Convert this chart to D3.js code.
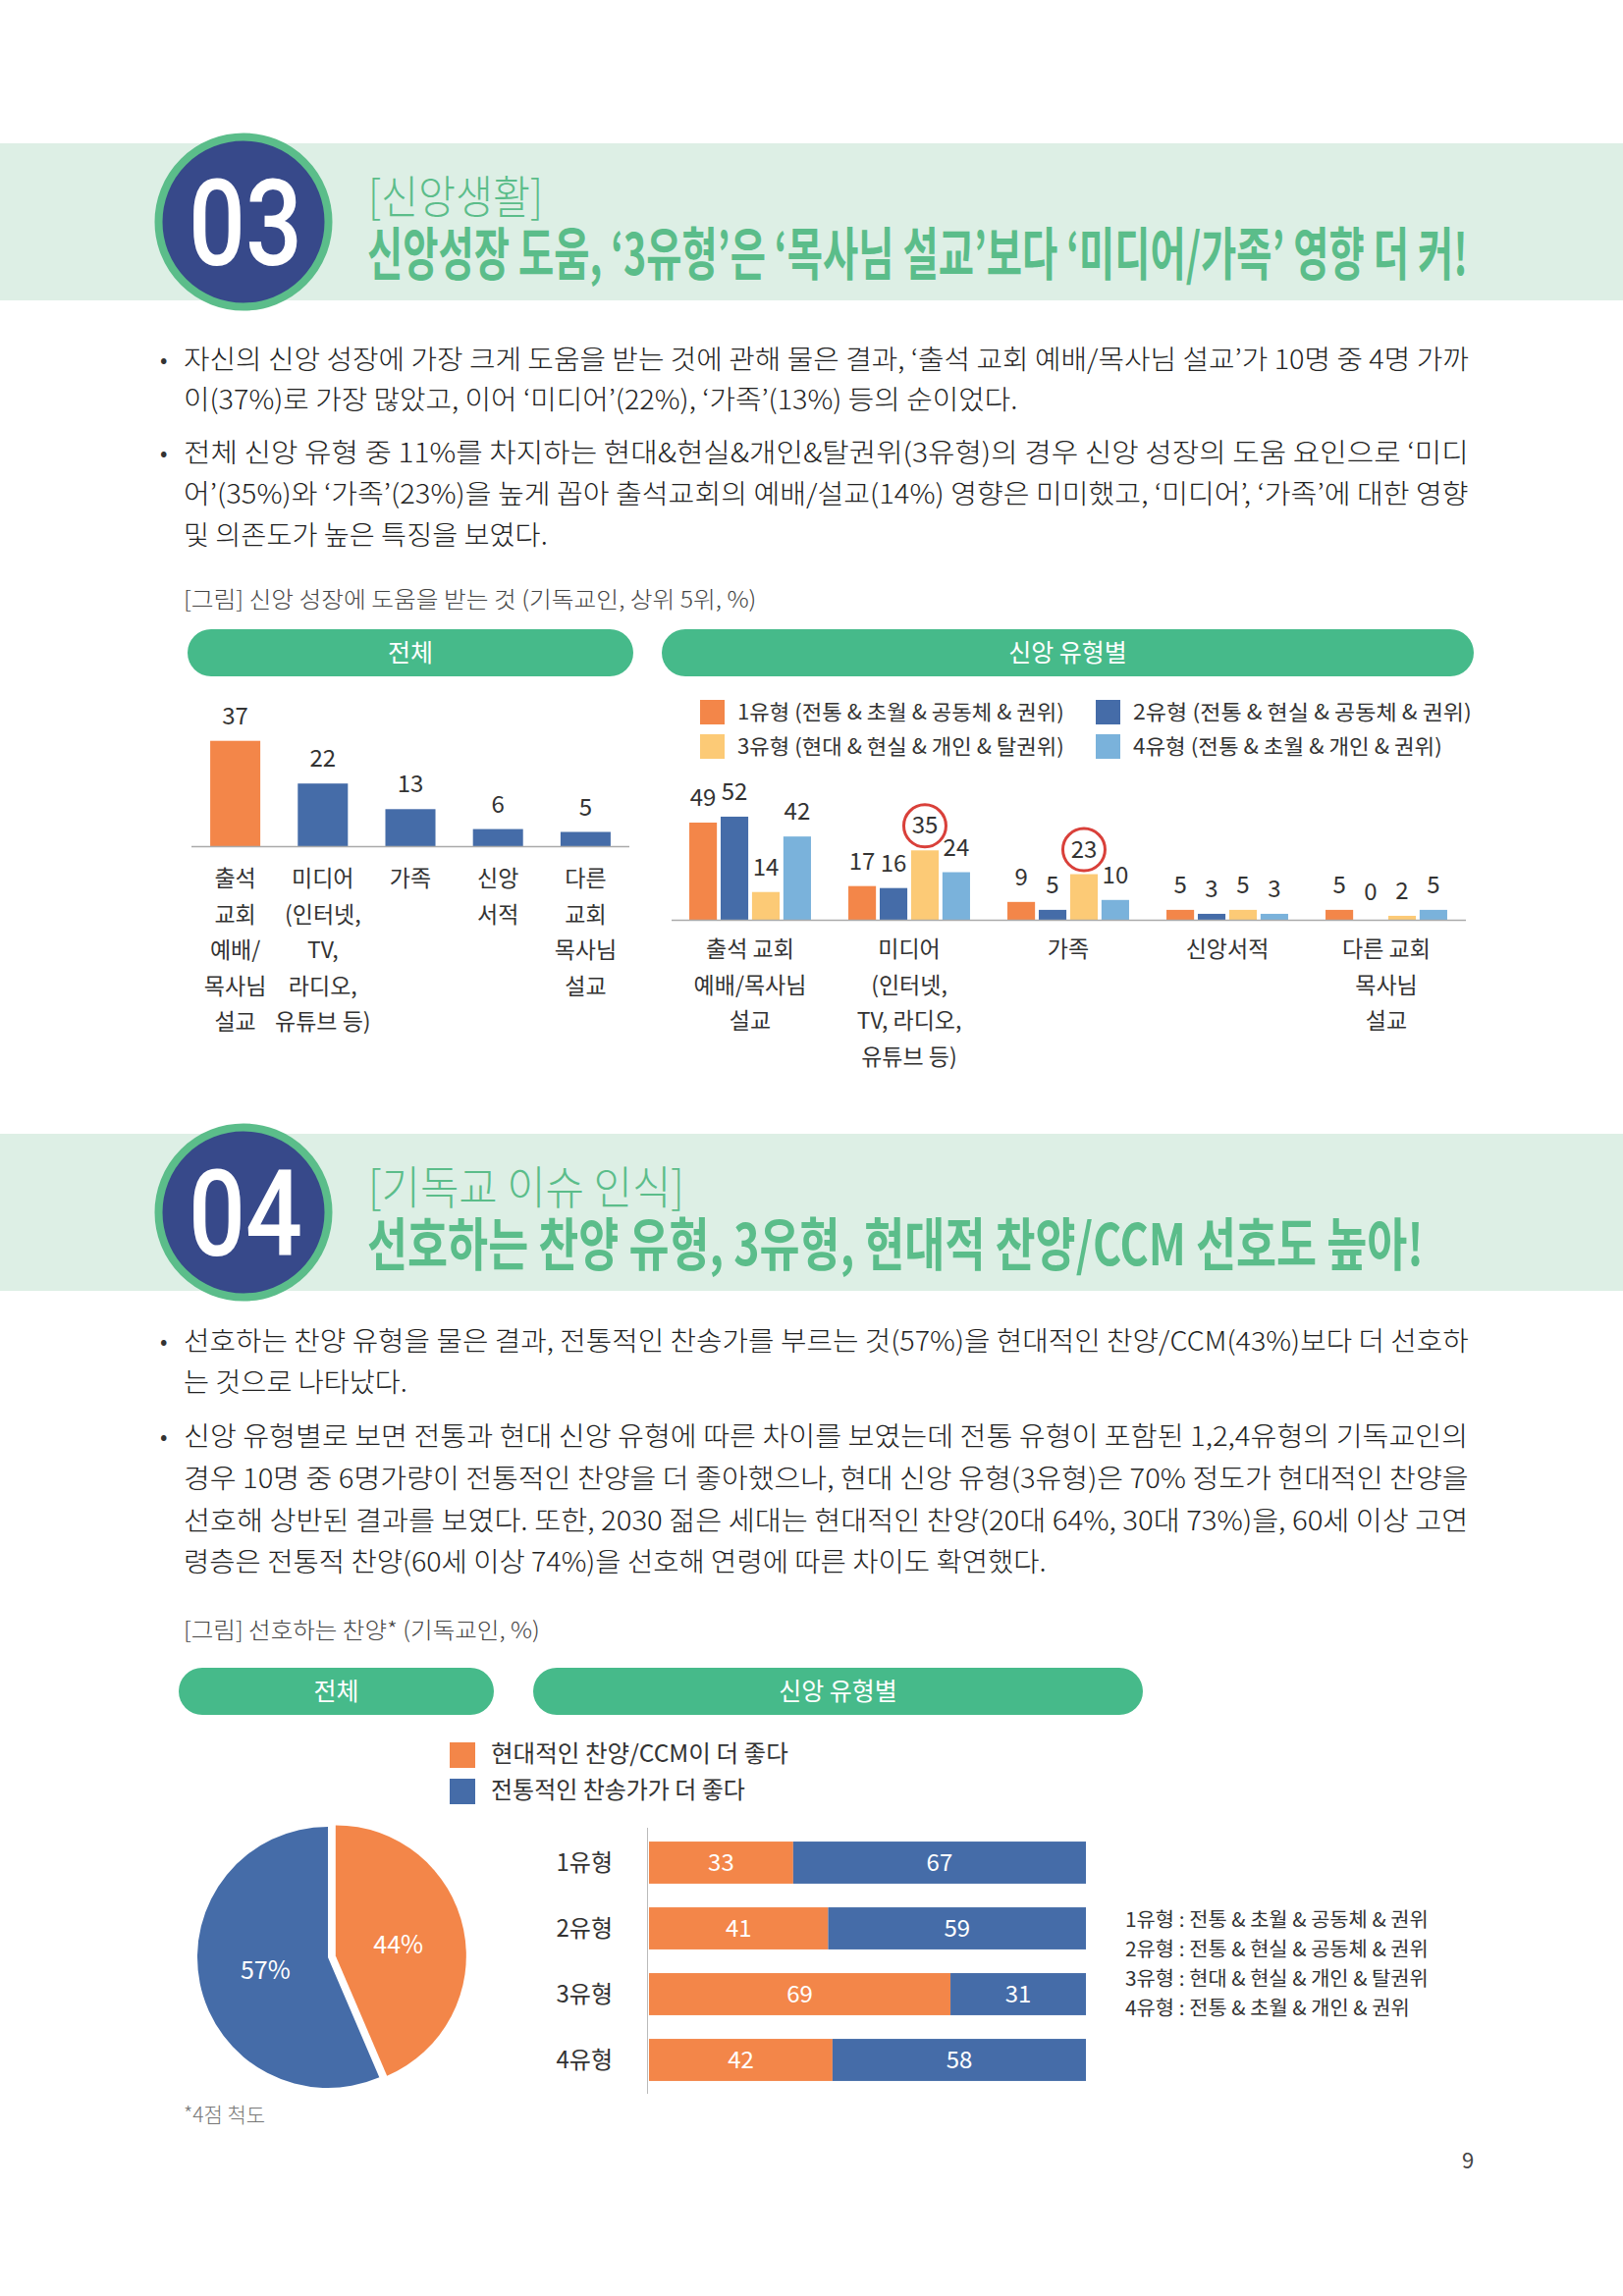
<!DOCTYPE html>
<html>
  <head>
    <meta charset="UTF-8">
    <title>신앙생활 / 기독교 이슈 인식</title>
    <script src="https://d3js.org/d3.v7.min.js"></script>
    <style>
      body { margin: 0; background: #fff; }
      text { font-family: 'Noto Sans CJK KR', 'Noto Sans', sans-serif; }
    </style>
  </head>
  <body>
    <svg width="1653" height="2339"></svg>

    <script>

// ---- chart 1 : 전체 ----
const overallCats = [
  ["출석", "교회", "예배/", "목사님", "설교"],
  ["미디어", "(인터넷,", "TV,", "라디오,", "유튜브 등)"],
  ["가족"],
  ["신앙", "서적"],
  ["다른", "교회", "목사님", "설교"]
];
const overallVals = [37, 22, 13, 6, 5];

// ---- chart 1 : 신앙 유형별 ----
const typeNames = [
  "1유형 (전통 & 초월 & 공동체 & 권위)",
  "2유형 (전통 & 현실 & 공동체 & 권위)",
  "3유형 (현대 & 현실 & 개인 & 탈권위)",
  "4유형 (전통 & 초월 & 개인 & 권위)"
];
const typeCats = [
  ["출석 교회", "예배/목사님", "설교"],
  ["미디어", "(인터넷,", "TV, 라디오,", "유튜브 등)"],
  ["가족"],
  ["신앙서적"],
  ["다른 교회", "목사님", "설교"]
];
const type1Vals = [49, 17, 9, 5, 5];
const type2Vals = [52, 16, 5, 3, 0];
const type3Vals = [14, 35, 23, 5, 2];
const type4Vals = [42, 24, 10, 3, 5];
const circledCats = [1, 2];   // 3유형 values circled in these categories

// ---- chart 2 ----
const songLegend = ["현대적인 찬양/CCM이 더 좋다", "전통적인 찬송가가 더 좋다"];
const pieVals = [44, 57];
const songTypes = ["1유형", "2유형", "3유형", "4유형"];
const modernVals = [33, 41, 69, 42];
const tradVals = [67, 59, 31, 58];
const typeNotes = [
  "1유형 : 전통 & 초월 & 공동체 & 권위",
  "2유형 : 전통 & 현실 & 공동체 & 권위",
  "3유형 : 현대 & 현실 & 개인 & 탈권위",
  "4유형 : 전통 & 초월 & 개인 & 권위"
];

const ORANGE = "#f38649", BLUE = "#456ca8", YELLOW = "#fcca76", LIGHTBLUE = "#7ab2db";
const GREEN = "#5bbd8a", PILL = "#46ba8a", BAND = "#ddefe5", NAVY = "#37498a";
const typeColors = [ORANGE, BLUE, YELLOW, LIGHTBLUE];

const svg = d3.select("svg");

// small helper for text; width squeezes/stretches the line to that length
function addText(g, x, y, s, size, opts) {
  opts = opts || {};
  const t = g.append("text")
    .attr("font-size", size)
    .attr("fill", opts.fill || "#222")
    .attr("font-weight", opts.weight || 400)
    .attr("text-anchor", opts.anchor || "start")
    .text(s);
  if (opts.family) t.style("font-family", opts.family);
  if (opts.width) {
    const k = opts.width / t.node().getComputedTextLength();
    t.attr("x", 0).attr("y", 0)
      .attr("transform", "translate(" + x + "," + y + ") scale(" + k + ",1)");
  } else {
    t.attr("x", x).attr("y", y);
  }
  return t;
}

// ---- section headers ----
function header(y0, num, sub, subW, title, titleW) {
  const g = svg.append("g");
  g.append("rect").attr("x", 0).attr("y", y0).attr("width", 1653).attr("height", 160).attr("fill", BAND);
  g.append("circle").attr("cx", 248).attr("cy", y0 + 80).attr("r", 86.5)
    .attr("fill", NAVY).attr("stroke", GREEN).attr("stroke-width", 8);
  addText(g, 250, y0 + 124, num, 122, { fill: "#fff", weight: 500, anchor: "middle", width: 116,
    family: "Roboto, 'Noto Sans', sans-serif" });
  addText(g, 375, y0 + 71, sub, 46, { fill: GREEN, weight: 300, width: subW });
  addText(g, 374, y0 + 134, title, 58, { fill: GREEN, weight: 700, width: titleW });
}
header(146, "03", "[신앙생활]", 178,
  "신앙성장 도움, ‘3유형’은 ‘목사님 설교’보다 ‘미디어/가족’ 영향 더 커!", 1121);
header(1155, "04", "[기독교 이슈 인식]", 322,
  "선호하는 찬양 유형, 3유형, 현대적 찬양/CCM 선호도 높아!", 1076);

// ---- body text ----
function paragraph(lines, ys, lastW) {
  const g = svg.append("g");
  addText(g, 163, ys[0] - 2, "•", 22, { fill: "#333" });
  lines.forEach((s, i) => {
    const w = i === lines.length - 1 ? lastW : 1309;
    addText(g, 187, ys[i], s, 27, { weight: 300, width: w });
  });
}
paragraph([
  "자신의 신앙 성장에 가장 크게 도움을 받는 것에 관해 물은 결과, ‘출석 교회 예배/목사님 설교’가 10명 중 4명 가까",
  "이(37%)로 가장 많았고, 이어 ‘미디어’(22%), ‘가족’(13%) 등의 순이었다."
], [376, 417], 850);
paragraph([
  "전체 신앙 유형 중 11%를 차지하는 현대&현실&개인&탈권위(3유형)의 경우 신앙 성장의 도움 요인으로 ‘미디",
  "어’(35%)와 ‘가족’(23%)을 높게 꼽아 출석교회의 예배/설교(14%) 영향은 미미했고, ‘미디어’, ‘가족’에 대한 영향",
  "및 의존도가 높은 특징을 보였다."
], [471, 513, 555], 371);
paragraph([
  "선호하는 찬양 유형을 물은 결과, 전통적인 찬송가를 부르는 것(57%)을 현대적인 찬양/CCM(43%)보다 더 선호하",
  "는 것으로 나타났다."
], [1376, 1418], 228);
paragraph([
  "신앙 유형별로 보면 전통과 현대 신앙 유형에 따른 차이를 보였는데 전통 유형이 포함된 1,2,4유형의 기독교인의",
  "경우 10명 중 6명가량이 전통적인 찬양을 더 좋아했으나, 현대 신앙 유형(3유형)은 70% 정도가 현대적인 찬양을",
  "선호해 상반된 결과를 보였다. 또한, 2030 젊은 세대는 현대적인 찬양(20대 64%, 30대 73%)을, 60세 이상 고연",
  "령층은 전통적 찬양(60세 이상 74%)을 선호해 연령에 따른 차이도 확연했다."
], [1473, 1516, 1559, 1601], 879);

// captions
addText(svg, 187, 619, "[그림] 신앙 성장에 도움을 받는 것 (기독교인, 상위 5위, %)", 23, { fill: "#444", weight: 300, width: 584 });
addText(svg, 187, 1669, "[그림] 선호하는 찬양* (기독교인, %)", 23, { fill: "#444", weight: 300, width: 363 });

// pills
function pill(x0, x1, y0, label) {
  svg.append("rect").attr("x", x0).attr("y", y0).attr("width", x1 - x0).attr("height", 48)
    .attr("rx", 24).attr("fill", PILL);
  addText(svg, (x0 + x1) / 2, y0 + 33, label, 25, { fill: "#fff", anchor: "middle" });
}
pill(191, 645, 641, "전체");
pill(674, 1501, 641, "신앙 유형별");
pill(182, 503, 1699, "전체");
pill(543, 1164, 1699, "신앙 유형별");

// ---- chart 1 left : 전체 ----
const baseL = 862;
const xL = d3.scaleBand().domain(d3.range(overallVals.length)).range([195, 641])
  .paddingInner(0.428).paddingOuter(0.214);
const yL = d3.scaleLinear().domain([0, 40]).range([baseL, baseL - 116]);

const left = svg.append("g");
left.selectAll("rect").data(overallVals).join("rect")
  .attr("x", (d, i) => xL(i))
  .attr("y", d => yL(d))
  .attr("width", xL.bandwidth())
  .attr("height", d => baseL - yL(d))
  .attr("fill", (d, i) => i === 0 ? ORANGE : BLUE);
left.selectAll(".val").data(overallVals).join("text")
  .attr("class", "val")
  .attr("x", (d, i) => xL(i) + xL.bandwidth() / 2)
  .attr("y", d => yL(d) - 17)
  .attr("text-anchor", "middle").attr("font-size", 24).attr("fill", "#333")
  .text(d => d);
left.append("line").attr("x1", 195).attr("x2", 641).attr("y1", baseL + 0.5).attr("y2", baseL + 0.5)
  .attr("stroke", "#aaa").attr("stroke-width", 1.5);
overallCats.forEach((lines, i) => {
  lines.forEach((s, j) => {
    addText(left, xL(i) + xL.bandwidth() / 2, 903 + j * 36.5, s, 23, { fill: "#333", anchor: "middle" });
  });
});

// ---- chart 1 right : 신앙 유형별 ----
const baseR = 937;
const typeVals = [type1Vals, type2Vals, type3Vals, type4Vals];
const xG = d3.scaleBand().domain(d3.range(typeCats.length)).range([683, 1493])
  .paddingInner(0.235).paddingOuter(0.1175);
const xT = d3.scaleBand().domain(d3.range(4)).range([0, xG.bandwidth()]).paddingInner(0.12);
const yR = d3.scaleLinear().domain([0, 60]).range([baseR, baseR - 121.2]);

const right = svg.append("g");
const cells = [];
typeCats.forEach((c, ci) => {
  typeVals.forEach((vals, ti) => cells.push({ ci: ci, ti: ti, v: vals[ci] }));
});
right.selectAll("rect").data(cells).join("rect")
  .attr("x", d => xG(d.ci) + xT(d.ti))
  .attr("y", d => yR(d.v))
  .attr("width", xT.bandwidth())
  .attr("height", d => baseR - yR(d.v))
  .attr("fill", d => typeColors[d.ti]);
right.selectAll(".val").data(cells).join("text")
  .attr("class", "val")
  .attr("x", d => xG(d.ci) + xT(d.ti) + xT.bandwidth() / 2)
  .attr("y", d => yR(d.v) - (d.v === 0 ? 20 : 17))
  .attr("text-anchor", "middle").attr("font-size", 24).attr("fill", "#333")
  .text(d => d.v);
right.selectAll(".ring").data(cells.filter(d => d.ti === 2 && circledCats.includes(d.ci))).join("circle")
  .attr("class", "ring")
  .attr("cx", d => xG(d.ci) + xT(d.ti) + xT.bandwidth() / 2)
  .attr("cy", d => yR(d.v) - 25)
  .attr("r", 21.5)
  .attr("fill", "none").attr("stroke", "#d9403a").attr("stroke-width", 3);
right.append("line").attr("x1", 684).attr("x2", 1493).attr("y1", baseR + 0.5).attr("y2", baseR + 0.5)
  .attr("stroke", "#aaa").attr("stroke-width", 1.5);
typeCats.forEach((lines, i) => {
  lines.forEach((s, j) => {
    addText(right, xG(i) + xG.bandwidth() / 2, 975 + j * 36.5, s, 23, { fill: "#333", anchor: "middle" });
  });
});
// legend
const legendW = [333, 345, 333, 315];
typeNames.forEach((s, i) => {
  const lx = i % 2 === 0 ? 713 : 1116;
  const ly = i < 2 ? 713 : 748;
  right.append("rect").attr("x", lx).attr("y", ly).attr("width", 25).attr("height", 25).attr("fill", typeColors[i]);
  addText(right, lx + 38, ly + 20, s, 21, { fill: "#333", width: legendW[i] });
});

// ---- chart 2 : pie ----
const pieG = svg.append("g").attr("transform", "translate(334,1994)");
const arcs = d3.pie().sort(null)(pieVals);
const arc = d3.arc().innerRadius(0).outerRadius(133);
const labelArc = d3.arc().innerRadius(0).outerRadius(130);
pieG.selectAll("path").data(arcs).join("path")
  .attr("d", arc)
  .attr("fill", (d, i) => i === 0 ? ORANGE : BLUE)
  .attr("transform", (d, i) => {
    if (i !== 0) return null;
    const a = (d.startAngle + d.endAngle) / 2;
    return "translate(" + (Math.sin(a) * 8) + "," + (-Math.cos(a) * 8) + ")";
  });
pieG.selectAll("text").data(arcs).join("text")
  .attr("x", (d, i) => labelArc.centroid(d)[0] + (i === 0 ? 8 : 0))
  .attr("y", d => labelArc.centroid(d)[1] + 9)
  .attr("text-anchor", "middle").attr("font-size", 25).attr("fill", "#fff")
  .text(d => d.data + "%");
addText(svg, 187, 2162, "*4점 척도", 21, { fill: "#777", weight: 300 });

// legend chart 2
[ORANGE, BLUE].forEach((c, i) => {
  svg.append("rect").attr("x", 458).attr("y", 1775 + i * 37).attr("width", 26).attr("height", 26).attr("fill", c);
  addText(svg, 500, 1795 + i * 37, songLegend[i], 24, { fill: "#333", width: i === 0 ? 303 : 259 });
});

// ---- chart 2 : stacked bars ----
const xS = d3.scaleLinear().domain([0, 100]).range([661, 1106]);
const yS = d3.scaleBand().domain(songTypes).range([1864, 2132]).paddingInner(0.36).paddingOuter(0.18);
const stackG = svg.append("g");
const rows = songTypes.map((t, i) => ({ t: t, m: modernVals[i], r: tradVals[i] }));
stackG.selectAll(".m").data(rows).join("rect").attr("class", "m")
  .attr("x", xS(0)).attr("y", d => yS(d.t))
  .attr("width", d => xS(d.m) - xS(0)).attr("height", yS.bandwidth())
  .attr("fill", ORANGE);
stackG.selectAll(".r").data(rows).join("rect").attr("class", "r")
  .attr("x", d => xS(d.m)).attr("y", d => yS(d.t))
  .attr("width", d => xS(d.m + d.r) - xS(d.m)).attr("height", yS.bandwidth())
  .attr("fill", BLUE);
stackG.selectAll(".mt").data(rows).join("text").attr("class", "mt")
  .attr("x", d => xS(d.m / 2)).attr("y", d => yS(d.t) + yS.bandwidth() / 2 + 8)
  .attr("text-anchor", "middle").attr("font-size", 24).attr("fill", "#fff")
  .text(d => d.m);
stackG.selectAll(".rt").data(rows).join("text").attr("class", "rt")
  .attr("x", d => xS(d.m + d.r / 2)).attr("y", d => yS(d.t) + yS.bandwidth() / 2 + 8)
  .attr("text-anchor", "middle").attr("font-size", 24).attr("fill", "#fff")
  .text(d => d.r);
stackG.selectAll(".lab").data(rows).join("text").attr("class", "lab")
  .attr("x", 624).attr("y", d => yS(d.t) + yS.bandwidth() / 2 + 8)
  .attr("text-anchor", "end").attr("font-size", 24).attr("fill", "#333")
  .text(d => d.t);
stackG.append("line").attr("x1", 659.5).attr("x2", 659.5).attr("y1", 1862).attr("y2", 2133)
  .attr("stroke", "#bbb").attr("stroke-width", 1);

// type notes
const noteW = [309, 309, 309, 290];
typeNotes.forEach((s, i) => {
  addText(svg, 1146, 1963 + i * 30, s, 20, { fill: "#333", width: noteW[i] });
});

// page number
addText(svg, 1495, 2209, "9", 22, { fill: "#444", anchor: "middle" });

    </script>
  </body>
</html>
